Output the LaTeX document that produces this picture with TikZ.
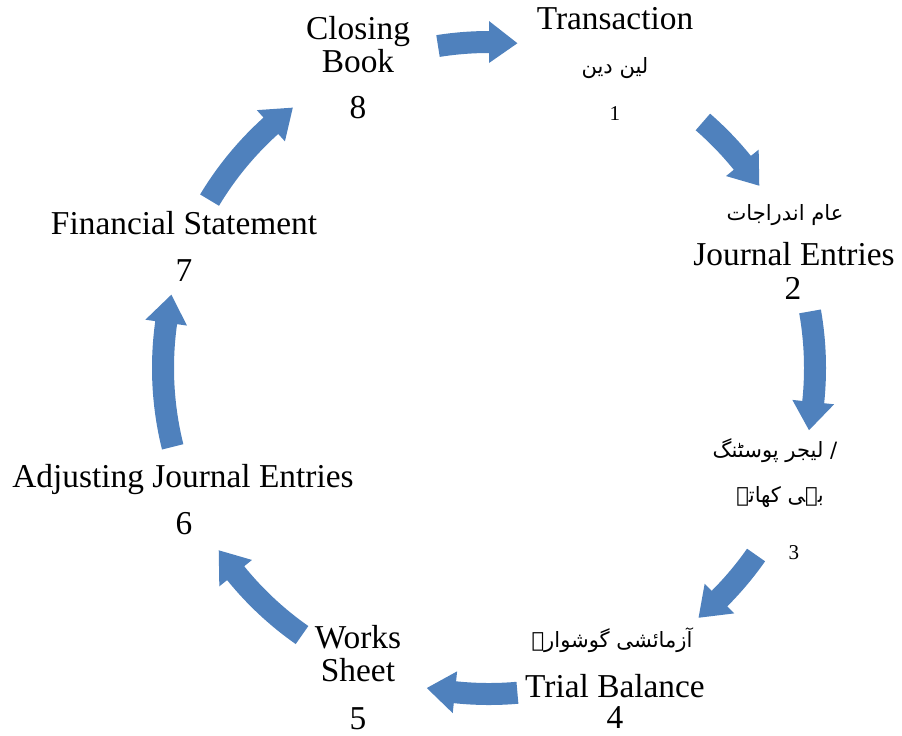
\documentclass[tikz,border=0pt]{standalone}
\usepackage{fontspec}
\setmainfont{Liberation Serif}
\newfontfamily\urdufont[Script=Arabic]{DejaVu Sans}
\TeXXeTstate=1
\usepackage{xcolor}
\definecolor{cycblue}{HTML}{4F81BD}

% curved block arrow along the cycle, from angle #1 to angle #2
\newcommand{\cycarrow}[2]{%
  \fill[cycblue] (#1:337) arc[start angle=#1, end angle=#2+5, radius=337]
    -- (#2+5:347) -- (#2:326) -- (#2+5:305) -- (#2+5:315)
    arc[start angle=#2+5, end angle=#1, radius=315] -- cycle;}

\begin{document}
\begin{tikzpicture}[x=0.02cm, y=0.02cm,
    lbl/.style={inner sep=0pt, text height=13pt, text depth=0pt, font=\fontsize{19}{22}\selectfont},
    small/.style={inner sep=0pt, text height=8pt, text depth=0pt, font=\fontsize{12}{14}\selectfont},
    urdu/.style={inner sep=0pt, font=\urdufont\fontsize{12}{14}\selectfont}]
    \useasboundingbox (0,0) rectangle (902,-735);

    \node[lbl](cb1) at (358,-28) {Closing};
    \node[lbl](cb2) at (358,-61) {Book};
    \node[lbl](cb8) at (358,-107) {8};

    \node[lbl](tr) at (615,-18) {Transaction};
    \node[urdu](tru) at (615,-68) {\beginR لین دین\endR};
    \node[small](tr1) at (615,-113) {1};

    \node[urdu](jeu) at (785,-215) {\beginR عام اندراجات\endR};
    \node[lbl](je) at (794,-254) {Journal Entries};
    \node[lbl](je2) at (793,-288) {2};

    \node[urdu](lpu) at (775,-451) {\beginR لیجر پوسٹنگ\endR\ /};
    \node[urdu](bku) at (780,-497) {\beginR بہی کھاتے\endR};
    \node[small](lp3) at (794,-552) {3};

    \node[urdu](tbu) at (612,-640) {\beginR آزمائشی گوشوارہ\endR};
    \node[lbl](tb) at (615,-686) {Trial Balance};
    \node[lbl](tb4) at (615,-717) {4};

    \node[lbl](ws1) at (358,-637) {Works};
    \node[lbl](ws2) at (358,-670) {Sheet};
    \node[lbl](ws5) at (358,-718) {5};

    \node[lbl](aj) at (183,-476) {Adjusting Journal Entries};
    \node[lbl](aj6) at (184,-523) {6};

    \node[lbl](fs) at (184,-223) {Financial Statement};
    \node[lbl](fs7) at (184,-270) {7};

    \begin{scope}[shift={(489,-368)}]
      \cycarrow{99}{85}
      \cycarrow{49}{34}
      \cycarrow{10}{-11}
      \cycarrow{-35}{-50}
      \cycarrow{-85}{-101}
      \cycarrow{-125}{-146}
      \cycarrow{194}{167}
      \cycarrow{149}{127}
    \end{scope}
  \end{tikzpicture}
\end{document}
